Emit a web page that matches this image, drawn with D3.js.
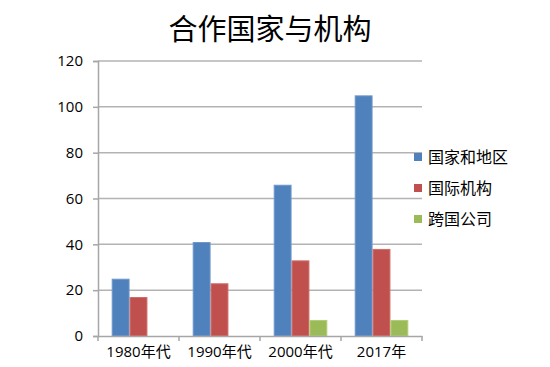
<!DOCTYPE html>
<html><head><meta charset="utf-8">
<script src="https://cdn.jsdelivr.net/npm/d3@7"></script>
<style>body{margin:0;background:#fff;}svg{display:block;}</style>
</head><body>
<script>
const categories = ["1980年代","1990年代","2000年代","2017年"];
const seriesNames = ["国家和地区","国际机构","跨国公司"];
const countries = [25, 41, 66, 105];
const orgs = [17, 23, 33, 38];
const companies = [0, 0, 7, 7];
const yTicks = [0,20,40,60,80,100,120];
const colors = ["#4F81BD","#C0504D","#9BBB59"];
const strokes = ["#6C97CC","#D06C69","#B0CE74"];

const seriesValues = [countries, orgs, companies];
const W=550,H=367;
const svg = d3.select("body").append("svg").attr("width",W).attr("height",H);
const m={left:98,right:128,top:61,bottom:31};
const x0 = d3.scaleBand().domain(categories).range([98,422]).padding(0);
const x1 = d3.scaleBand().domain(seriesNames).range([13.7, x0.bandwidth()-13.7]).padding(0);
const y = d3.scaleLinear().domain([0,120]).range([336,61]);
const font = "'Open Sans','Noto Sans CJK SC',sans-serif";

// gridlines
svg.append("g").selectAll("line").data(yTicks.filter(d=>d>0)).join("line")
  .attr("x1",98).attr("x2",422).attr("y1",d=>y(d)).attr("y2",d=>y(d))
  .attr("stroke","#B3B3B3").attr("stroke-width",1.5);

// bars
const rows = categories.map((c,i)=>({c, vals: seriesNames.map((s,j)=>({s, j, v: seriesValues[j][i]}))}));
svg.append("g").selectAll("g").data(rows).join("g")
  .attr("transform",d=>`translate(${x0(d.c)},0)`)
  .selectAll("rect").data(d=>d.vals.filter(v=>v.v>0)).join("rect")
  .attr("x",d=>x1(d.s)+0.5).attr("width",x1.bandwidth()-1)
  .attr("y",d=>y(d.v)+0.5).attr("height",d=>y(0)-y(d.v)-0.5)
  .attr("fill",d=>colors[d.j]).attr("stroke",d=>strokes[d.j]).attr("stroke-width",1);

// y axis
const ya = svg.append("g").attr("transform","translate(98,0)")
  .call(d3.axisLeft(y).tickValues(yTicks).tickSize(5).tickPadding(10));
ya.select(".domain").attr("stroke","#A6A6A6").attr("stroke-width",1.5);
ya.selectAll(".tick line").attr("stroke","#A6A6A6").attr("stroke-width",1.5);
ya.selectAll("text").attr("font-family",font).attr("font-size",15).attr("fill","#000");

// x axis
const xa = svg.append("g").attr("transform","translate(0,336)")
  .call(d3.axisBottom(x0).tickSize(0).tickPadding(10));
xa.select(".domain").attr("stroke","#A6A6A6").attr("stroke-width",1.5);
xa.selectAll("text").attr("font-family",font).attr("font-size",15).attr("fill","#000");
svg.append("g").selectAll("line").data(d3.range(categories.length+1)).join("line")
  .attr("x1",i=>98+i*x0.bandwidth()).attr("x2",i=>98+i*x0.bandwidth())
  .attr("y1",336).attr("y2",341).attr("stroke","#A6A6A6").attr("stroke-width",1.5);

// title
svg.append("text").attr("x",270).attr("y",40).attr("text-anchor","middle")
  .attr("font-family",font).attr("font-size",29).attr("fill","#000").text("合作国家与机构");

// legend
const lg = svg.append("g").selectAll("g").data(seriesNames).join("g")
  .attr("transform",(d,i)=>`translate(414,${157+i*31})`);
lg.append("rect").attr("x",0).attr("y",-4).attr("width",8).attr("height",8)
  .attr("fill",(d,i)=>colors[i]);
lg.append("text").attr("x",14).attr("y",0).attr("dy","0.35em")
  .attr("font-family",font).attr("font-size",16).attr("fill","#000").text(d=>d);
</script>
</body></html>
